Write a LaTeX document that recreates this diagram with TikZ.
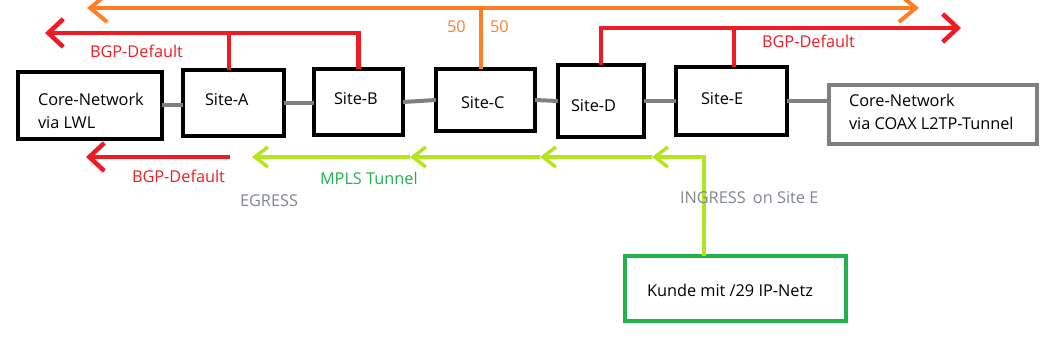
\documentclass[tikz,border=0pt]{standalone}
\usepackage{fontspec}
\setmainfont{Open Sans}
\usetikzlibrary{arrows.meta}
\definecolor{pred}{HTML}{ED1C24}
\definecolor{porange}{HTML}{FF7F27}
\definecolor{plime}{HTML}{B5E61D}
\definecolor{pgreen}{HTML}{22B14C}
\definecolor{pgray}{HTML}{7F7F7F}
\definecolor{ptext}{HTML}{7F868E}
\begin{document}
\begin{tikzpicture}[x=1pt,y=-1pt,
  box/.style={draw=black, line width=4.5pt, inner sep=0pt, outer sep=0pt},
  graybox/.style={box, draw=pgray, line width=4pt},
  greenbox/.style={box, draw=pgreen},
  txt/.style={inner sep=0pt, outer sep=0pt, anchor=west, font=\fontsize{16.3}{23}\selectfont, align=left},
  link/.style={draw=pgray, line width=4pt},
  redl/.style={draw=pred, line width=4.5pt},
  redarrow/.style={redl, -{Straight Barb[length=15pt,width=28pt]}},
  orangel/.style={draw=porange, line width=4pt},
  greenl/.style={draw=plime, line width=3.5pt, -{Straight Barb[length=13pt,width=20pt]}},
]
\useasboundingbox (0,0) rectangle (1057,344);
% boxes
\node[box, minimum width=144pt, minimum height=67pt] (coreL) at (90,105.5) {};
\node[box, minimum width=101pt, minimum height=66pt] (siteA) at (233.5,103) {};
\node[box, minimum width=89pt, minimum height=66pt] (siteB) at (358.5,102) {};
\node[box, minimum width=99pt, minimum height=62pt] (siteC) at (485.5,100) {};
\node[box, minimum width=86pt, minimum height=72pt] (siteD) at (601,101) {};
\node[box, minimum width=111pt, minimum height=68pt] (siteE) at (731.5,101) {};
\node[graybox, minimum width=208pt, minimum height=59pt] (coreR) at (933,114.5) {};
\node[greenbox, minimum width=221pt, minimum height=65pt] (kunde) at (735.5,288.5) {};
% box texts
\node[txt] (tcoreL) at (38,110.5) {Core-Network\\via LWL};
\node[txt] (tA) at (205,99.5) {Site-A};
\node[txt] (tB) at (334,98.5) {Site-B};
\node[txt] (tC) at (461,102.5) {Site-C};
\node[txt] (tD) at (571,105.5) {Site-D};
\node[txt] (tE) at (701,99) {Site-E};
\node[txt] (tcoreR) at (849,112) {Core-Network\\via COAX L2TP-Tunnel};
\node[txt] (tkunde) at (647,290) {Kunde mit /29 IP-Netz};
% gray links
\draw[link] (coreL.east) -- (coreL.east -| siteA.west);
\draw[link] (siteA.east) -- (siteA.east -| siteB.west);
\draw[link] (siteB.east) -- (siteC.west);
\draw[link] (siteC.east) -- (siteD.west);
\draw[link] (siteD.east) -- (siteE.west);
\draw[link] (siteE.east) -- (siteE.east -| coreR.west);
% orange
\coordinate (oL) at (87,8);
\coordinate (oR) at (919,8);
\coordinate (oTop) at (481,8);
\draw[orangel, {Straight Barb[length=17pt,width=28pt]}-{Straight Barb[length=17pt,width=28pt]}] (oL) -- (oR);
\draw[orangel] (oTop |- siteC.north) -- (oTop);
\node[txt, text=porange] (o50a) at (447,27) {50};
\node[txt, text=porange] (o50b) at (490,27) {50};
% red top left
\coordinate (rTL) at (45,33);
\draw[redarrow] (siteB.north) |- (rTL);
\draw[redl] ([xshift=-4.5pt]siteA.north) -- ([xshift=-4.5pt]siteA.north |- rTL);
\node[txt, text=pred] (bgp1) at (90,51) {BGP-Default};
% red top right
\coordinate (rTR) at (961,28);
\draw[redarrow] (siteD.north) |- (rTR);
\draw[redl] ([xshift=2.5pt]siteE.north) -- ([xshift=2.5pt]siteE.north |- rTR);
\node[txt, text=pred] (bgp2) at (762,41.5) {BGP-Default};
% red bottom
\coordinate (rB1) at (230,157);
\coordinate (rB2) at (86,157);
\draw[redarrow] (rB1) -- (rB2);
\node[txt, text=pred] (bgp3) at (132,176.5) {BGP-Default};
% green MPLS
\coordinate (gC) at (704,157);
\coordinate (g1) at (652,157);
\coordinate (g2) at (540,157);
\coordinate (g3) at (410,157);
\coordinate (g4) at (252,157);
\draw[greenl] (gC |- kunde.north) -- (gC) -- (g1);
\draw[greenl] (g1) -- (g2);
\draw[greenl] (g2) -- (g3);
\draw[greenl] (g3) -- (g4);
\node[txt, text=pgreen] (mpls) at (320,178) {MPLS Tunnel};
\node[txt, text=ptext] (egress) at (240,201) {EGRESS};
\node[txt, text=ptext] (ingress) at (680,197.5) {INGRESS\hspace{3pt} on Site E};
\end{tikzpicture}
\end{document}
